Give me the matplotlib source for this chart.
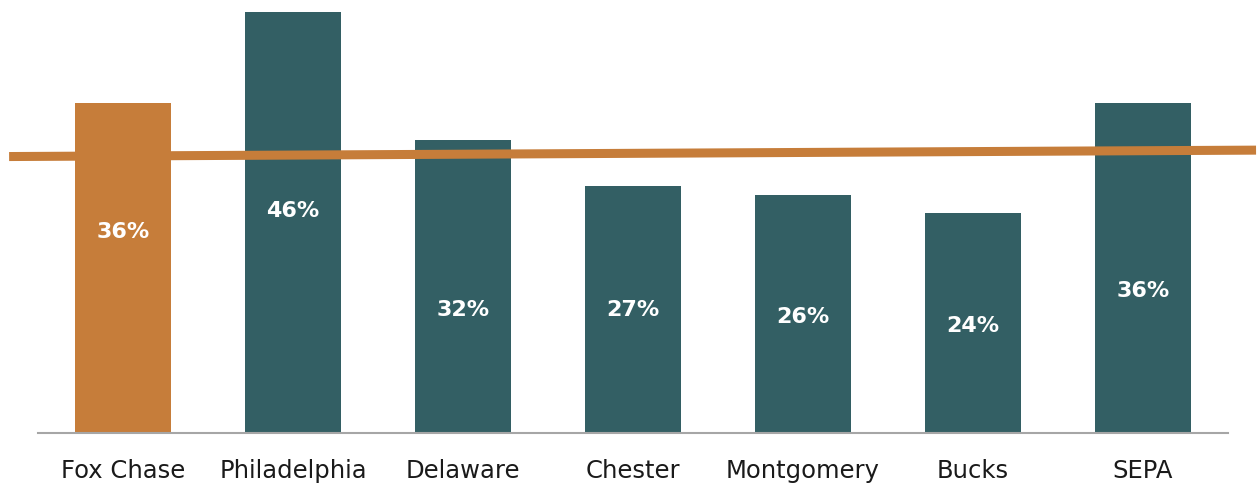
import matplotlib
matplotlib.use("Agg")
import matplotlib.pyplot as plt

# dados do gráfico
regioes = ["Fox Chase", "Philadelphia", "Delaware", "Chester", "Montgomery", "Bucks", "SEPA"]
valores = [36, 46, 32, 27, 26, 24, 36]
rotulos = ["36%", "46%", "32%", "27%", "26%", "24%", "36%"]
# altura (em %) onde cada rótulo foi colocado no original
altura_rotulo = [22.0, 24.3, 13.4, 13.4, 12.7, 11.7, 15.5]
# linha de referência (começo e fim, um pouco inclinada)
linha_x = [-0.67, 6.665]
linha_y = [30.2, 30.9]

LARANJA = "#C67D3A"
VERDE = "#335F64"

plt.rcParams["font.family"] = ["DejaVu Sans"]

fig = plt.figure(figsize=(12.58, 4.83), dpi=100)
ax = fig.add_axes([38 / 1258, 50 / 483, 1190 / 1258, 433 / 483])

cores = [LARANJA] + [VERDE] * (len(regioes) - 1)
x = range(len(regioes))
ax.bar(x, valores, width=0.567, color=cores, zorder=2)

for i, (txt, h) in enumerate(zip(rotulos, altura_rotulo)):
    ax.text(i, h, txt, ha="center", va="center", color="white",
            fontsize=16, fontweight="bold", zorder=4)

ax.plot(linha_x, linha_y, color=LARANJA, linewidth=6.5, solid_capstyle="butt",
        clip_on=False, zorder=3)

ax.set_xlim(-0.5, len(regioes) - 0.5)
ax.set_ylim(0, 47.3)
ax.set_xticks(list(x))
ax.set_xticklabels(regioes, fontsize=17.5, color="#1a1a1a")
ax.tick_params(axis="x", length=0, pad=19)
ax.set_yticks([])
for lado in ["top", "right", "left"]:
    ax.spines[lado].set_visible(False)
ax.spines["bottom"].set_color("#A6A6A6")
ax.spines["bottom"].set_linewidth(1.5)

fig.savefig("out.png", dpi=100)
